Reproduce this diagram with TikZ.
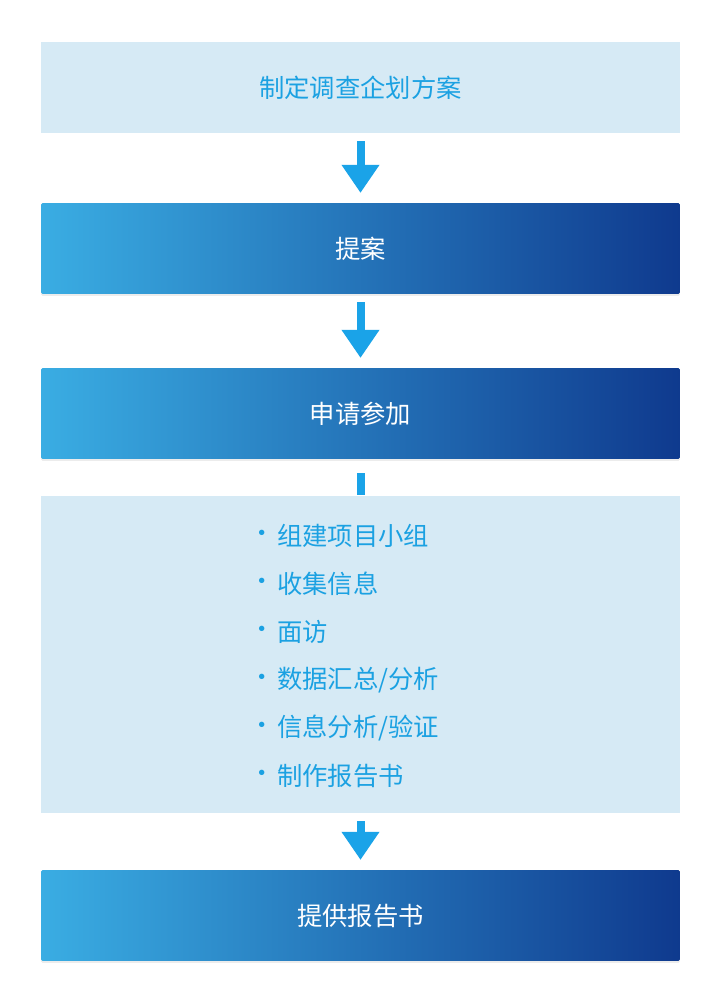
\documentclass[tikz,border=0pt]{standalone}
\usepackage{fontspec}
\setmainfont{Noto Sans CJK SC}
\usetikzlibrary{arrows.meta,shadows}
\definecolor{paleblue}{HTML}{D6EAF5}
\definecolor{textblue}{HTML}{1BA1E2}
\definecolor{gradleft}{HTML}{3AADE3}
\definecolor{gradright}{HTML}{0F3A8E}
\definecolor{arrowblue}{HTML}{1AA3E8}
\tikzset{
  lightbox/.style={fill=paleblue, minimum width=479pt, minimum height=68pt,
    inner sep=0pt, text=textblue, font={\fontsize{19}{19}\selectfont}},
  darkbox/.style={left color=gradleft, right color=gradright, minimum width=479pt,
    minimum height=68pt, inner sep=0pt, rounded corners=1pt, text=white,
    font={\fontsize{19}{19}\selectfont},
    drop shadow={opacity=0.15, shadow xshift=0pt, shadow yshift=-1.5pt}},
  flow/.style={draw=arrowblue, line width=6pt,
    -{Triangle[length=21pt 0, width=27pt 0]}, shorten <=6pt, shorten >=7.5pt},
  listitem/.style={text=textblue, anchor=west, inner sep=0pt,
    font={\fontsize{19}{19}\selectfont}}
}
\begin{document}
\begin{tikzpicture}[x=0.75pt, y=-0.75pt]
\useasboundingbox (0,0) rectangle (720,1000);

\node [lightbox] (plan) at (360.5, 87.5) {制定调查企划方案};
\node [darkbox] (proposal) at (360.5, 248.5) {提案};
\node [darkbox] (apply) at (360.5, 413.5) {申请参加};
\node [lightbox, minimum height=238pt] (tasks) at (360.5, 654.5) {};
\node [darkbox] (report) at (360.5, 915.5) {提供报告书};

% task list
\foreach \txt [count=\i from 0] in {组建项目小组, 收集信息, 面访, 数据汇总/分析,
    信息分析/验证, 制作报告书} {
  \node [listitem] (dot\i) at (249, 536+48*\i) {·};
  \node [listitem] (item\i) at (277, 536+48*\i) {\txt};
}

\draw [flow] (plan) -- (proposal);
\draw [flow] (proposal) -- (apply);
\draw [draw=arrowblue, line width=6pt, shorten <=10.5pt, shorten >=0.75pt] (apply) -- (tasks);
\draw [flow] (tasks) -- (report);

\end{tikzpicture}
\end{document}
